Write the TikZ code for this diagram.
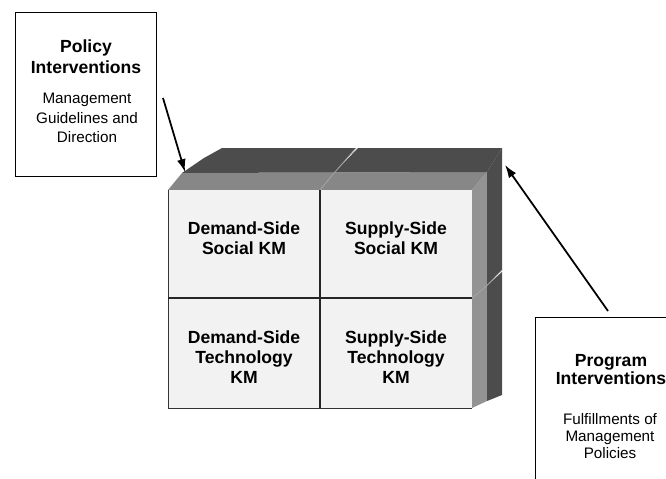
\documentclass[tikz,border=0pt]{standalone}
\usepackage{fontspec}
\setmainfont{Liberation Sans}
\usetikzlibrary{arrows.meta}

\definecolor{facegray}{gray}{0.95}
\definecolor{bandgray}{gray}{0.53}
\definecolor{deepgray}{gray}{0.30}

\tikzset{
	titletext/.style={align=center,font=\bfseries\fontsize{15}{17.6}\selectfont},
	bodytext/.style={align=center,font=\fontsize{13}{16.4}\selectfont},
	celltext/.style={align=center,font=\bfseries\fontsize{15}{17.3}\selectfont},
	pointer/.style={line width=1.5pt,-{Latex[length=11pt,width=7.5pt]}}
}

\begin{document}
\begin{tikzpicture}[x=0.03cm,y=-0.03cm]

	\useasboundingbox (0,0) rectangle (666,479);

	% top faces of the two upper blocks
	\fill[bandgray] (168,190) -- (320,190) -- (334.5,172.5) -- (182,173) -- cycle;
	\fill[deepgray] (182,173) -- (334.5,172.5) -- (356,148) -- (222,148) -- (204,158) -- cycle;
	\fill[bandgray] (320,190) -- (472,190) -- (487,172) -- (334.5,172.5) -- cycle;
	\fill[deepgray] (334.5,172.5) -- (487,172) -- (502,148) -- (358,148) -- cycle;

	% right faces of the two right blocks
	\fill[bandgray!90] (472,190) -- (472,298) -- (487,285.5) -- (487,172) -- cycle;
	\fill[deepgray] (487,172) -- (487,285.5) -- (502,270) -- (502,148) -- cycle;
	\fill[bandgray!90] (472,298) -- (472,408) -- (487,401) -- (487,285.5) -- cycle;
	\fill[deepgray] (487,285.5) -- (487,401) -- (502,395) -- (502,272) -- cycle;

	% seams between the blocks
	\draw[gray!70,line width=0.6pt] (320,190) -- (334.5,172.5) -- (356,148);
	\draw[gray!70,line width=0.6pt] (472,298) -- (487,285.5) -- (502,270);

	% front faces
	\fill[facegray] (168,190) rectangle (472,408);
	\draw[black!80,line width=0.8pt] (168,190) -- (168,408) -- (472,408);
	\draw[black!85,line width=1pt] (320,190) -- (320,408);
	\draw[black!85,line width=1pt] (168,298) -- (472,298);

	\node[celltext] (demsoc) at (244,238) {Demand-Side\\Social KM};
	\node[celltext] (supsoc) at (396,238) {Supply-Side\\Social KM};
	\node[celltext] (demtech) at (244,357) {Demand-Side\\Technology\\KM};
	\node[celltext] (suptech) at (396,357) {Supply-Side\\Technology\\KM};

	% policy box
	\draw[line width=0.7pt] (15,12) rectangle (156,176);
	\node[titletext] (policy) at (86,57) {Policy\\Interventions};
	\node[bodytext] (policynote) at (87,118) {Management\\Guidelines and\\Direction};

	% program box
	\draw[line width=0.7pt] (535,317) rectangle (690,500);
	\node[titletext,font=\bfseries\fontsize{15}{13.6}\selectfont] (program) at (611,369.5) {Program\\Interventions};
	\node[bodytext,font=\fontsize{13}{14.5}\selectfont] (programnote) at (610,436.5) {Fulfillments of\\Management\\Policies};

	% arrows
	\coordinate (policytail) at (163,98);
	\coordinate (policytip) at (185,172);
	\coordinate (programtail) at (608,311);
	\coordinate (programtip) at (505,165);
	\draw[pointer] (policytail) -- (policytip);
	\draw[pointer] (programtail) -- (programtip);

\end{tikzpicture}
\end{document}
